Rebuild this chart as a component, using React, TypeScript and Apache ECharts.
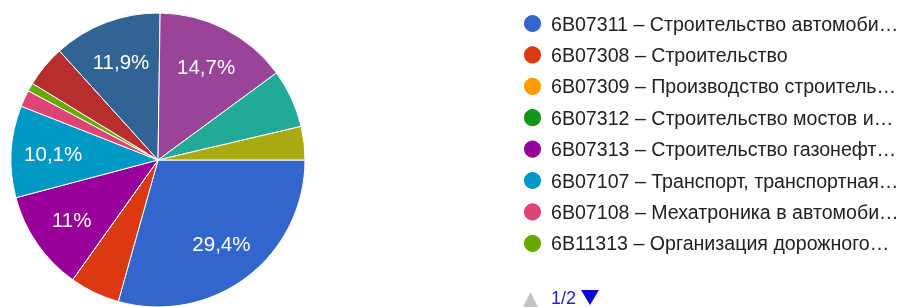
import React, { useEffect, useRef } from "react";
import * as echarts from "echarts";

// Legend page 1 (visible, as truncated in the reference) and page 2 (hidden) items
const categories: string[] = [
  "6B07311 – Строительство автомоби…",
  "6B07308 – Строительство",
  "6B07309 – Производство строитель…",
  "6B07312 – Строительство мостов и…",
  "6B07313 – Строительство газонефт…",
  "6B07107 – Транспорт, транспортная…",
  "6B07108 – Мехатроника в автомоби…",
  "6B11313 – Организация дорожного…",
  "Стр. 2 – позиция 1",
  "Стр. 2 – позиция 2",
  "Стр. 2 – позиция 3",
  "Стр. 2 – позиция 4",
  "Стр. 2 – позиция 5",
];
const counts: number[] = [32, 6, 0, 0, 12, 11, 2, 1, 5, 13, 16, 7, 4];
const palette: string[] = [
  "#3366cc", "#dc3912", "#ff9900", "#109618", "#990099", "#0099c6",
  "#dd4477", "#66aa00", "#b82e2e", "#316395", "#994499", "#22aa99", "#aaaa11",
];
const visibleLegendCount = 8;
const pageText = "1/2";

export default function App() {
  const ref = useRef<HTMLDivElement>(null);
  useEffect(() => {
    if (!ref.current) return;
    const chart = echarts.init(ref.current, undefined, { renderer: "svg" });
    const data = categories.map((name, i) => ({
      name,
      value: counts[i],
      itemStyle: { color: palette[i] },
    }));
    const fmt = (p: any) =>
      p.percent >= 9.95
        ? String(Number(p.percent.toFixed(1))).replace(".", ",") + "%"
        : "";
    chart.setOption({
      animation: false,
      color: palette,
      legend: {
        orient: "vertical",
        left: 522,
        top: 13,
        padding: 0,
        itemWidth: 19,
        itemHeight: 19,
        itemGap: 10.4,
        icon: "circle",
        selectedMode: false,
        data: categories.slice(0, visibleLegendCount),
        textStyle: {
          fontFamily: "Arial, 'Liberation Sans', sans-serif",
          fontSize: 19.6,
          color: "#222222",
          padding: [0, 0, 0, 4],
          lineHeight: 20,
        },
      },
      series: [
        {
          type: "pie",
          center: [158, 160],
          radius: [0, 147],
          startAngle: 0,
          clockwise: true,
          avoidLabelOverlap: false,
          label: { show: false },
          labelLine: { show: false },
          itemStyle: { borderColor: "#ffffff", borderWidth: 1 },
          emphasis: { disabled: true },
          data,
        },
        {
          type: "pie",
          center: [158, 160],
          radius: [57, 147],
          startAngle: 0,
          clockwise: true,
          silent: true,
          avoidLabelOverlap: false,
          legendHoverLink: false,
          itemStyle: { color: "rgba(0,0,0,0)" },
          labelLine: { show: false },
          emphasis: { disabled: true },
          label: {
            show: true,
            position: "inside",
            formatter: fmt,
            color: "#ffffff",
            fontFamily: "Arial, 'Liberation Sans', sans-serif",
            fontSize: 20.5,
          },
          data: categories.map((name, i) => ({ name, value: counts[i] })),
        },
      ],
      graphic: [
        {
          type: "polygon",
          shape: { points: [[523, 307], [538, 307], [530.5, 292]] },
          style: { fill: "#c4c4c4" },
        },
        {
          type: "text",
          x: 551,
          y: 298,
          style: {
            text: pageText,
            fill: "#2424c8",
            fontFamily: "Arial, 'Liberation Sans', sans-serif",
            fontSize: 18,
            verticalAlign: "middle",
          },
        },
        {
          type: "polygon",
          shape: { points: [[581, 290], [599, 290], [590, 305]] },
          style: { fill: "#0a0ad0" },
        },
      ],
    });
    return () => chart.dispose();
  }, []);
  return (
    <div
      ref={ref}
      style={{ position: "fixed", left: 0, top: 0, width: 904, height: 307 }}
    />
  );
}
